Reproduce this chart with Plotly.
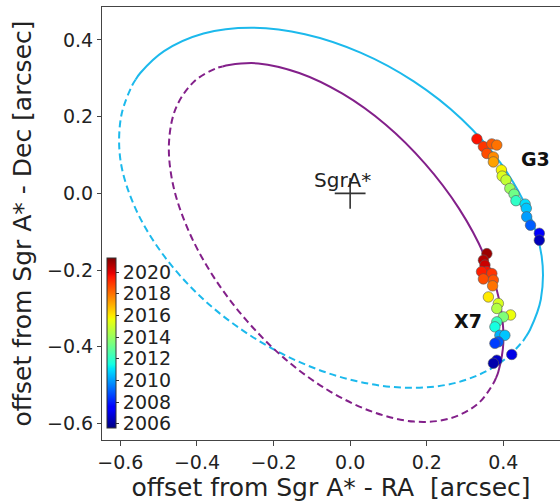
import plotly.graph_objects as go

# ---------------- data ----------------
# G3 orbit model curve (arcsec): solid = covered part, dashed = rest of the orbit
g3_solid_x = [0.460, 0.470, 0.498, 0.500, 0.463, 0.392, 0.291, 0.166, 0.027, -0.118, -0.258, -0.383, -0.486, -0.548, -0.560]
g3_solid_y = [-0.372, -0.355, -0.276, -0.163, -0.042, 0.080, 0.194, 0.292, 0.367, 0.415, 0.432, 0.417, 0.371, 0.314, 0.297]
g3_dash_x = [-0.560, -0.570, -0.598, -0.600, -0.563, -0.492, -0.391, -0.266, -0.127, 0.018, 0.158, 0.283, 0.386, 0.448, 0.460]
g3_dash_y = [0.297, 0.280, 0.201, 0.088, -0.034, -0.155, -0.269, -0.367, -0.442, -0.490, -0.507, -0.492, -0.446, -0.389, -0.372]

# X7 orbit model curve (arcsec)
x7_solid_x = [-0.333, -0.316, -0.240, -0.133, -0.020, 0.093, 0.196, 0.284, 0.350, 0.390, 0.400, 0.387, 0.381]
x7_solid_y = [0.331, 0.335, 0.339, 0.314, 0.260, 0.179, 0.077, -0.039, -0.161, -0.281, -0.390, -0.465, -0.481]
x7_dash_x = [0.381, 0.373, 0.333, 0.260, 0.167, 0.060, -0.053, -0.166, -0.269, -0.357, -0.423, -0.463, -0.473, -0.454, -0.406, -0.350, -0.333]
x7_dash_y = [-0.481, -0.497, -0.549, -0.587, -0.595, -0.570, -0.516, -0.435, -0.333, -0.217, -0.095, 0.025, 0.134, 0.225, 0.293, 0.326, 0.331]

# G3 observed positions and epochs
g3_x = [0.331, 0.348, 0.370, 0.383, 0.357, 0.374, 0.374, 0.395, 0.397, 0.407, 0.417, 0.428, 0.433, 0.457, 0.460, 0.461, 0.471, 0.494, 0.494]
g3_y = [0.142, 0.122, 0.129, 0.126, 0.104, 0.095, 0.082, 0.061, 0.045, 0.035, 0.013, -0.002, -0.019, -0.028, -0.039, -0.061, -0.083, -0.104, -0.122]
g3_year = [2019.6, 2019.0, 2018.4, 2018.0, 2018.6, 2017.6, 2017.2, 2015.8, 2015.3, 2014.8, 2014.0, 2013.2, 2012.0, 2011.0, 2010.6, 2010.0, 2009.0, 2007.4, 2006.4]

# X7 observed positions and epochs
x7_x = [0.357, 0.348, 0.352, 0.357, 0.343, 0.370, 0.348, 0.374, 0.372, 0.361, 0.387, 0.383, 0.419, 0.400, 0.383, 0.378, 0.391, 0.404, 0.387, 0.378, 0.422, 0.383, 0.374]
x7_y = [-0.157, -0.174, -0.187, -0.204, -0.204, -0.209, -0.223, -0.226, -0.241, -0.270, -0.287, -0.300, -0.317, -0.322, -0.335, -0.348, -0.370, -0.370, -0.387, -0.391, -0.420, -0.435, -0.443]
x7_year = [2020.9, 2020.6, 2020.3, 2019.6, 2019.4, 2019.0, 2018.6, 2018.5, 2018.0, 2016.0, 2015.2, 2014.5, 2015.6, 2013.5, 2012.2, 2011.5, 2010.3, 2010.6, 2009.0, 2008.5, 2007.0, 2006.6, 2006.2]

cbar_ticks = [2006, 2008, 2010, 2012, 2014, 2016, 2018, 2020]
year_min, year_max = 2005.6, 2021.3

# matplotlib-like jet colormap
jet = [[0.0, "rgb(0,0,128)"], [0.11, "rgb(0,0,255)"], [0.125, "rgb(0,0,255)"],
       [0.34, "rgb(0,219,255)"], [0.35, "rgb(0,230,247)"], [0.375, "rgb(21,255,226)"],
       [0.64, "rgb(239,255,8)"], [0.65, "rgb(247,245,0)"], [0.66, "rgb(255,236,0)"],
       [0.89, "rgb(255,19,0)"], [0.91, "rgb(232,0,0)"], [1.0, "rgb(128,0,0)"]]

CYAN = "#1cb9ec"
PURPLE = "#83208a"
FONT = "DejaVu Sans"

# plot geometry in pixels
W, H = 560, 504
ML, MR, MT, MB = 102, 0, 7, 64
PW, PH = W - ML - MR, H - MT - MB

fig = go.Figure()

fig.add_trace(go.Scatter(x=g3_dash_x, y=g3_dash_y, mode="lines",
                         line=dict(color=CYAN, width=2, dash="7px,4px", shape="spline"), hoverinfo="skip"))
fig.add_trace(go.Scatter(x=g3_solid_x, y=g3_solid_y, mode="lines",
                         line=dict(color=CYAN, width=2, shape="spline"), hoverinfo="skip"))
fig.add_trace(go.Scatter(x=x7_dash_x, y=x7_dash_y, mode="lines",
                         line=dict(color=PURPLE, width=2, dash="7px,4px", shape="spline"), hoverinfo="skip"))
fig.add_trace(go.Scatter(x=x7_solid_x, y=x7_solid_y, mode="lines",
                         line=dict(color=PURPLE, width=2, shape="spline"), hoverinfo="skip"))

marker_common = dict(size=10.5, colorscale=jet, cmin=year_min, cmax=year_max,
                     line=dict(color="rgba(90,90,90,0.6)", width=1))

fig.add_trace(go.Scatter(x=g3_x, y=g3_y, mode="markers",
                         marker=dict(color=g3_year, **marker_common)))
fig.add_trace(go.Scatter(
    x=x7_x, y=x7_y, mode="markers",
    marker=dict(color=x7_year, showscale=True,
                colorbar=dict(
                    x=(107 - ML) / PW, xanchor="left", xref="paper",
                    y=(440 - 428) / PH, yanchor="bottom", yref="paper",
                    len=(428 - 258) / PH, lenmode="fraction",
                    thickness=9, thicknessmode="pixels",
                    xpad=0, ypad=0,
                    outlinewidth=1, outlinecolor="#333",
                    tickvals=cbar_ticks, ticks="outside", ticklen=3, tickcolor="#333",
                    tickfont=dict(family=FONT, size=19, color="#222"),
                ),
                **marker_common)))

# Sgr A* position
fig.add_trace(go.Scatter(x=[0], y=[0], mode="markers",
                         marker=dict(symbol="cross-thin", size=22, line=dict(color="#333", width=1.6)),
                         hoverinfo="skip"))

fig.add_annotation(x=-0.02, y=0.034, text="SgrA*", showarrow=False,
                   font=dict(family=FONT, size=20, color="#222"), xanchor="center", yanchor="middle")
fig.add_annotation(x=0.483, y=0.0895, text="<b>G3</b>", showarrow=False,
                   font=dict(family=FONT, size=19, color="#111"), xanchor="center", yanchor="middle")
fig.add_annotation(x=0.307, y=-0.332, text="<b>X7</b>", showarrow=False,
                   font=dict(family=FONT, size=19, color="#111"), xanchor="center", yanchor="middle")

axis_common = dict(showgrid=False, zeroline=False, showline=True, linecolor="#444", linewidth=1,
                   ticks="outside", tickcolor="#444", automargin=False,
                   tickfont=dict(family=FONT, size=19, color="#222"))

fig.update_layout(
    width=W, height=H,
    margin=dict(l=ML, r=MR, t=MT, b=MB, autoexpand=False),
    paper_bgcolor="white", plot_bgcolor="white",
    showlegend=False,
    xaxis=dict(range=[-0.648, 0.548], tickvals=[-0.6, -0.4, -0.2, 0.0, 0.2, 0.4],
               ticktext=["\u22120.6", "\u22120.4", "\u22120.2", "0.0", "0.2", "0.4"],
               ticklen=5, mirror=True,
               title=dict(text="offset from Sgr A* - RA  [arcsec]", standoff=2,
                          font=dict(family=FONT, size=25, color="#222")),
               **axis_common),
    yaxis=dict(range=[-0.643, 0.486], tickvals=[-0.6, -0.4, -0.2, 0.0, 0.2, 0.4],
               ticktext=["\u22120.6", "\u22120.4", "\u22120.2", "0.0", "0.2", "0.4"],
               ticklen=4,
               title=dict(text="offset from Sgr A* - Dec [arcsec]", standoff=8,
                          font=dict(family=FONT, size=25, color="#222")),
               **axis_common),
)

fig.write_html("out.html", config={"displayModeBar": False},
               post_script="document.body.style.margin='0';document.body.style.overflow='hidden';")
